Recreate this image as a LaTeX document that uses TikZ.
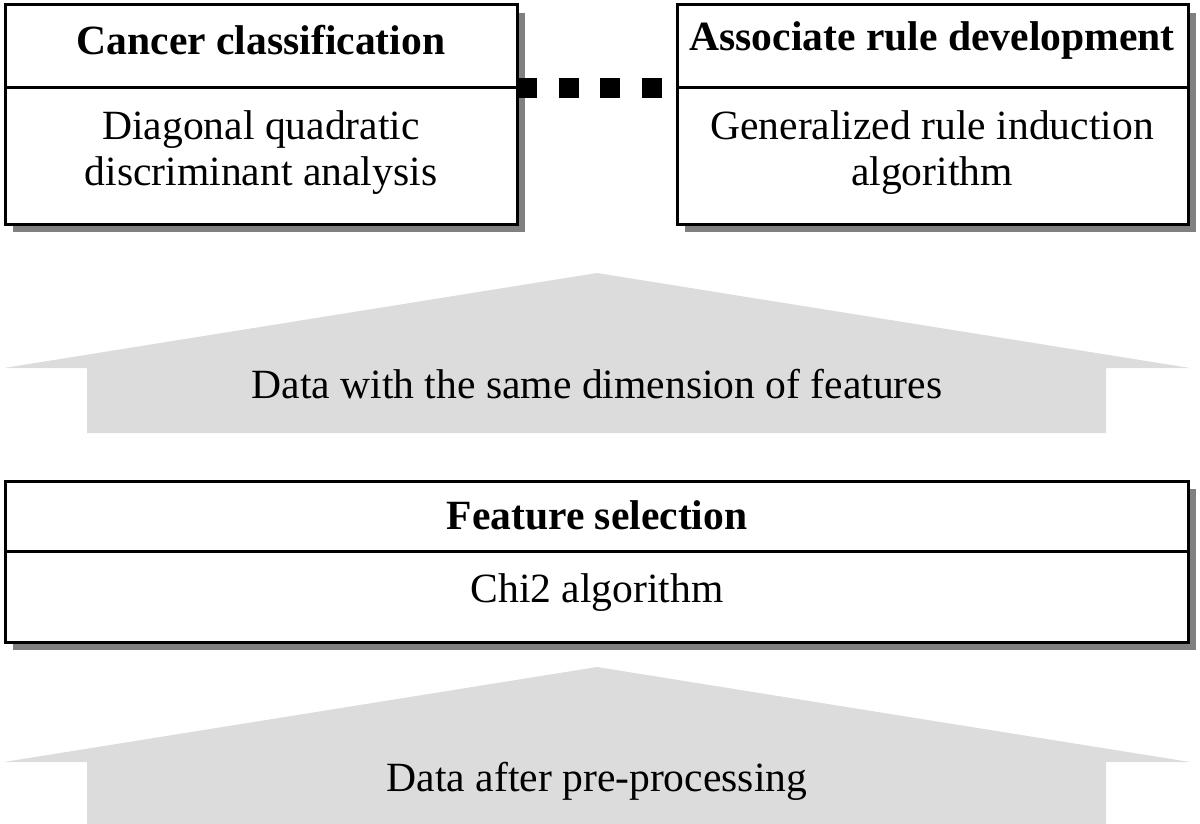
\documentclass[tikz,border=0pt]{standalone}
\usepackage{fontspec}
\setmainfont{Liberation Serif}
\definecolor{arrowgray}{RGB}{220,220,220}
\definecolor{shadowgray}{RGB}{128,128,128}
\tikzset{
  x=1pt, y=-1pt,
  frame/.style={draw=black, line width=3pt, fill=white, inner sep=0pt},
  divider/.style={draw=black, line width=3pt},
  head/.style={font=\fontsize{41.6}{46}\selectfont\bfseries, inner sep=0pt, align=center},
  body/.style={font=\fontsize{41.6}{46}\selectfont, inner sep=0pt, align=center},
  bigarrow/.style={fill=arrowgray, draw=none},
  dots/.style={line width=20pt, dash pattern=on 20pt off 21.7pt, draw=black}
}
\begin{document}
\begin{tikzpicture}
\useasboundingbox (0,0) rectangle (1200,824);
% shadows
\fill[shadowgray] (13,13) rectangle (525,232);
\fill[shadowgray] (685,13) rectangle (1196,232);
\fill[shadowgray] (13,489) rectangle (1196,650);
% boxes
\draw[frame] (5,5) rectangle (517,224);
\draw[frame] (677,5) rectangle (1188,224);
\draw[frame] (5,481) rectangle (1188,642);
\coordinate (d1l) at (5,88);
\coordinate (d1r) at (517,88);
\coordinate (d2l) at (677,88);
\coordinate (d2r) at (1188,88);
\coordinate (d3l) at (5,551);
\coordinate (d3r) at (1188,551);
\draw[divider] (d1l) -- (d1r);
\draw[divider] (d2l) -- (d2r);
\draw[divider] (d3l) -- (d3r);
% texts
\node[head] (cc) at (261,40) {Cancer classification};
\node[body] (dq) at (261,153) {Diagonal quadratic\\discriminant analysis};
\node[head] (ar) at (932,40) {Associate rule development};
\node[body] (gr) at (932,153) {Generalized rule induction\\algorithm};
\node[head] (fs) at (597,515) {Feature selection};
\node[body] (chi) at (597,593) {Chi2 algorithm};
% dotted link
\draw[dots] (d1r) -- ([xshift=-15pt]d2l);
% arrows
\fill[bigarrow] (597,273) -- (1190,368) -- (1106,368) -- (1106,433) -- (87,433) -- (87,368) -- (4,368) -- cycle;
\node[body] (a1) at (597,384) {Data with the same dimension of features};
\fill[bigarrow] (597,667) -- (1190,762) -- (1106,762) -- (1106,824) -- (87,824) -- (87,762) -- (4,762) -- cycle;
\node[body] (a2) at (597,781) {Data after pre-processing};
\end{tikzpicture}
\end{document}
